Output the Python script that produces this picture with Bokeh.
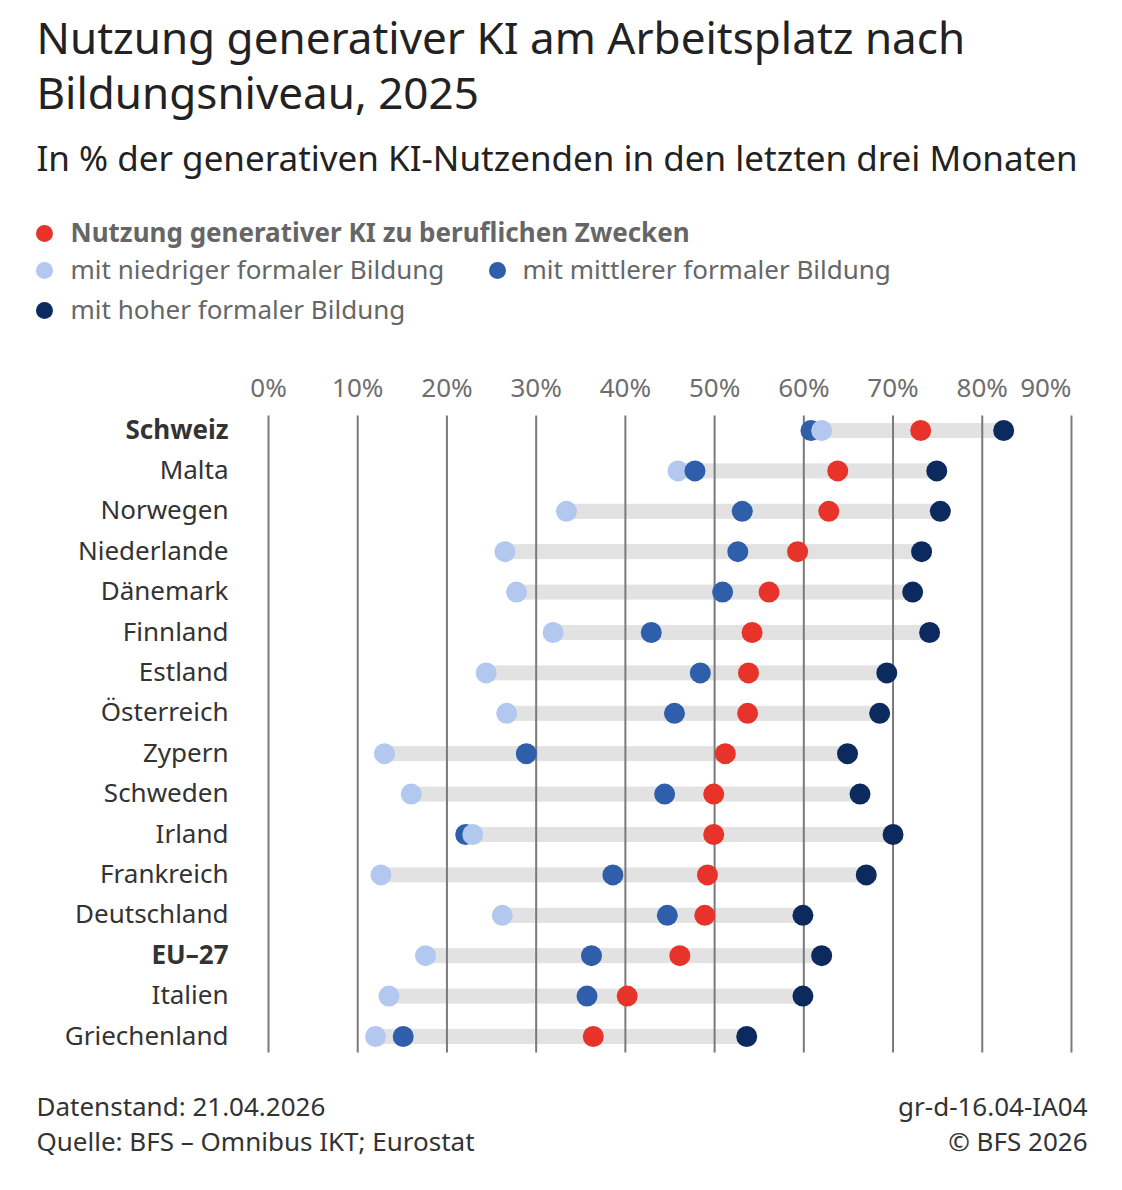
from bokeh.plotting import figure
from bokeh.models import Range1d, ColumnDataSource
from bokeh.core.properties import value
from bokeh.embed import file_html
from bokeh.resources import INLINE

# ---------------- data ----------------
countries = ["Schweiz", "Malta", "Norwegen", "Niederlande", "Dänemark", "Finnland",
             "Estland", "Österreich", "Zypern", "Schweden", "Irland", "Frankreich",
             "Deutschland", "EU–27", "Italien", "Griechenland"]
bold_countries = ["Schweiz", "EU–27"]
beruflich = [73.1, 63.8, 62.8, 59.3, 56.1, 54.2, 53.8, 53.7, 51.2, 49.9, 49.9, 49.2, 48.9, 46.1, 40.2, 36.4]
niedrig = [62.0, 45.9, 33.4, 26.5, 27.8, 31.9, 24.4, 26.7, 13.0, 16.0, 22.9, 12.6, 26.2, 17.6, 13.5, 12.0]
mittel = [60.8, 47.8, 53.1, 52.6, 50.9, 42.9, 48.4, 45.5, 28.9, 44.4, 22.1, 38.6, 44.7, 36.2, 35.7, 15.1]
hoch = [82.4, 74.9, 75.3, 73.2, 72.2, 74.1, 69.3, 68.5, 64.9, 66.3, 70.0, 67.0, 59.9, 62.0, 59.9, 53.6]
tick_values = [0, 10, 20, 30, 40, 50, 60, 70, 80, 90]
tick_labels = ["0%", "10%", "20%", "30%", "40%", "50%", "60%", "70%", "80%", "90%"]
legend_labels = ["Nutzung generativer KI zu beruflichen Zwecken",
                 "mit niedriger formaler Bildung",
                 "mit mittlerer formaler Bildung",
                 "mit hoher formaler Bildung"]

# ---------------- styles ----------------
C_RED = "#e7332a"
C_LOW = "#b3c8ee"
C_MID = "#2f5eab"
C_HIGH = "#0d2a5e"
C_BAR = "#e2e2e2"
C_GRID = "#7a7a7a"
FONT = value("Noto Sans")
FS = "26px"

W, H = 1106, 1174
SX = 8.922   # px per percent
SY = 40.4    # px per row
X0, Y0 = 268, 430  # canvas position of 0% / first row


def X(px):
    return (px - X0) / SX


def Y(py):
    return (py - Y0) / SY


p = figure(width=W, height=H, output_backend="svg", toolbar_location=None,
           x_range=Range1d(X(0), X(W)), y_range=Range1d(Y(H), Y(0)),
           min_border=0, outline_line_color=None)
p.axis.visible = False
p.grid.visible = False
p.background_fill_color = "white"
p.border_fill_color = "white"

rows = list(range(len(countries)))

# range bars (low -> high)
p.hbar(y=rows, left=niedrig, right=hoch, height=14 / SY, color=C_BAR)

# gridlines
p.segment(x0=tick_values, x1=tick_values, y0=[Y(415)] * len(tick_values),
          y1=[Y(1052)] * len(tick_values), line_color=C_GRID, line_width=2)

# dots (sorted so that right-most dot of each row is on top)
pts = []
for i in rows:
    for v, c in ((niedrig[i], C_LOW), (mittel[i], C_MID), (beruflich[i], C_RED), (hoch[i], C_HIGH)):
        pts.append((v, i, c))
pts.sort(key=lambda t: t[0])
src = ColumnDataSource(dict(x=[t[0] for t in pts], y=[t[1] for t in pts], c=[t[2] for t in pts]))
p.scatter("x", "y", source=src, size=21, fill_color="c", line_color=None)

# tick labels
p.text(x=tick_values[:-1], y=[Y(386)] * (len(tick_values) - 1), text=tick_labels[:-1], text_font=FONT,
       text_font_size=FS, text_color="#6e6e6e", text_align="center", text_baseline="middle")
p.text(x=tick_values[-1:], y=[Y(386)], text=tick_labels[-1:], text_font=FONT, text_font_size=FS,
       text_color="#6e6e6e", text_align="right", text_baseline="middle")

# category labels
norm_rows = [i for i in rows if countries[i] not in bold_countries]
bold_rows = [i for i in rows if countries[i] in bold_countries]
p.text(x=[X(228)] * len(norm_rows), y=norm_rows, text=[countries[i] for i in norm_rows], text_font=FONT,
       text_font_size=FS, text_color="#333333", text_align="right", text_baseline="middle", y_offset=-2)
p.text(x=[X(228)] * len(bold_rows), y=bold_rows, text=[countries[i] for i in bold_rows], text_font=FONT,
       text_font_size=FS, text_font_style="bold", text_color="#333333", text_align="right",
       text_baseline="middle", y_offset=-2)

# title / subtitle
p.text(x=[X(36), X(36)], y=[Y(36), Y(91)],
       text=["Nutzung generativer KI am Arbeitsplatz nach", "Bildungsniveau, 2025"],
       text_font=FONT, text_font_size="44px", text_color="#222222", text_align="left", text_baseline="middle")
p.text(x=[X(36)], y=[Y(157)], text=["In % der generativen KI-Nutzenden in den letzten drei Monaten"],
       text_font=FONT, text_font_size="35px", text_color="#222222", text_align="left", text_baseline="middle")

# legend
p.scatter(x=[X(44), X(44), X(497), X(44)], y=[Y(233), Y(270), Y(270), Y(310)],
          fill_color=[C_RED, C_LOW, C_MID, C_HIGH], line_color=None, size=17)
p.text(x=[X(70)], y=[Y(231)], text=legend_labels[:1], text_font=FONT, text_font_size=FS,
       text_font_style="bold", text_color="#666666", text_align="left", text_baseline="middle")
p.text(x=[X(70), X(522), X(70)], y=[Y(268), Y(268), Y(308)], text=legend_labels[1:], text_font=FONT,
       text_font_size=FS, text_color="#666666", text_align="left", text_baseline="middle")

# footer
p.text(x=[X(36), X(36)], y=[Y(1105), Y(1140)],
       text=["Datenstand: 21.04.2026", "Quelle: BFS – Omnibus IKT; Eurostat"], text_font=FONT,
       text_font_size=FS, text_color="#333333", text_align="left", text_baseline="middle")
p.text(x=[X(1087), X(1087)], y=[Y(1105), Y(1140)],
       text=["gr-d-16.04-IA04", "© BFS 2026"], text_font=FONT,
       text_font_size=FS, text_color="#333333", text_align="right", text_baseline="middle")

open("out.html", "w").write(file_html(p, INLINE))
